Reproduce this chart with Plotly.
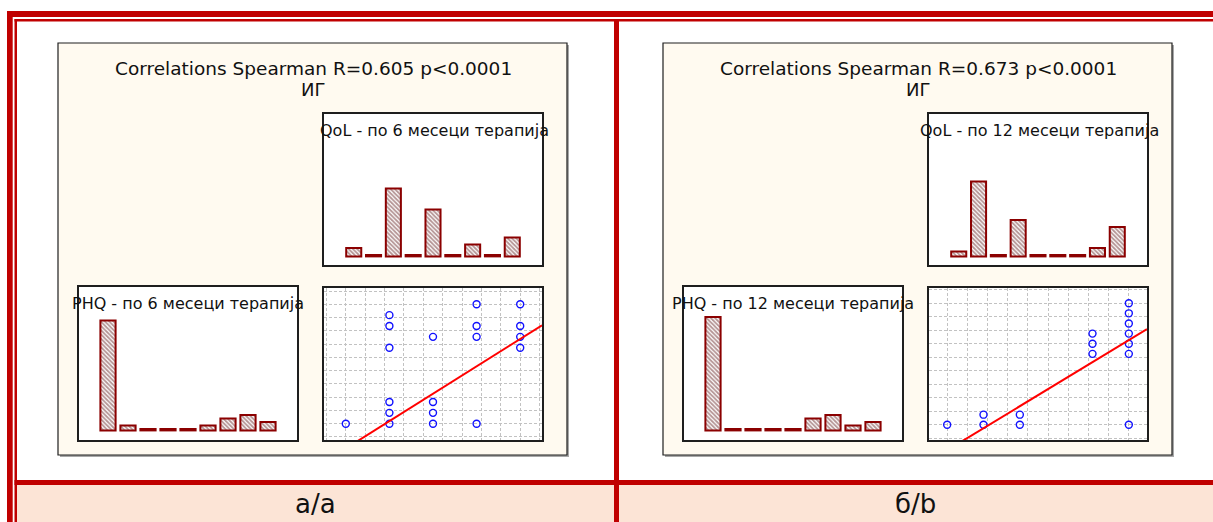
import plotly.graph_objects as go

W, H = 1213, 522

# ---------------- data ----------------
bins = [1, 2, 3, 4, 5, 6, 7, 8, 9]
qol6_counts = [2, 0, 19, 0, 13, 0, 3, 0, 5]
phq6_counts = [31, 1, 0, 0, 0, 1, 3, 4, 2]
qol12_counts = [1, 21, 0, 10, 0, 0, 0, 2, 8]
phq12_counts = [32, 0, 0, 0, 0, 3, 4, 1, 2]

scatter6_qol = [1, 2, 2, 2, 2, 2, 2, 3, 3, 3, 3, 4, 4, 4, 4, 5, 5, 5, 5]
scatter6_phq = [0, 10, 9, 7, 2, 1, 0, 8, 2, 1, 0, 11, 9, 8, 0, 11, 9, 8, 7]
scatter12_qol = [1, 2, 2, 3, 3, 5, 5, 5, 6, 6, 6, 6, 6, 6, 6]
scatter12_phq = [0, 1, 0, 1, 0, 9, 8, 7, 12, 11, 10, 9, 8, 7, 0]

fit6 = [2.52, -4.80]      # slope, intercept of the drawn regression line
fit12 = [2.173, -4.685]

titles = ["Correlations Spearman R=0.605 p<0.0001",
          "Correlations Spearman R=0.673 p<0.0001"]
group_label = "ИГ"
qol_titles = ["QoL - по 6 месеци терапија", "QoL - по 12 месеци терапија"]
phq_titles = ["PHQ - по 6 месеци терапија", "PHQ - по 12 месеци терапија"]
panel_labels = ["а/а", "б/b"]

# ---------------- styling ----------------
RED = "#C00000"
PINK = "#FCE4D6"
CREAM = "#FFFAF0"
BAR_EDGE = "#8B0000"
FONT = "DejaVu Sans"
ZERO_PAD = 0.4


def fx(px):
    return px / W


def fy(py):
    return 1 - py / H


def rect(x0, y0, x1, y1, fill=None, line_color=None, line_width=0, layer="below"):
    return dict(type="rect", xref="paper", yref="paper",
                x0=fx(x0), x1=fx(x1), y0=fy(y1), y1=fy(y0),
                fillcolor=fill if fill else "rgba(0,0,0,0)",
                line=dict(color=line_color if line_color else "rgba(0,0,0,0)", width=line_width),
                layer=layer)


fig = go.Figure()
shapes = []
annotations = []

panel_left = [58, 663]
hist_counts = [(qol6_counts, phq6_counts), (qol12_counts, phq12_counts)]
scatters = [(scatter6_qol, scatter6_phq, fit6), (scatter12_qol, scatter12_phq, fit12)]
scatter_xrange = [[0.5, 5.5], [0.5, 6.5]]
scatter_yrange = [[-1.5, 12.5], [-1.5, 13.5]]
grid_dx = [4 / 9, 5 / 9]
grid_dy = [11 / 9, 12 / 9]

bar_marker = dict(color="white", line=dict(color=BAR_EDGE, width=2),
                  pattern=dict(shape="\\", fgcolor="#6A2A2A", bgcolor="white",
                               size=3, solidity=0.6, fillmode="overlay"))

# background frame
shapes.append(rect(17, 485, W + 2, H + 2, fill=PINK))
for i, px0 in enumerate(panel_left):
    # cream panel with shadow
    shapes.append(rect(px0 + 2, 45, px0 + 511, 457, fill="#A8A8A8"))
    shapes.append(rect(px0, 43, px0 + 509, 455, fill=CREAM, line_color="#1E1E1E", line_width=1.2))
    # white sub boxes
    shapes.append(rect(px0 + 265, 113, px0 + 485, 266, fill="white"))
    shapes.append(rect(px0 + 265, 287, px0 + 485, 441, fill="white"))
    shapes.append(rect(px0 + 20, 286, px0 + 240, 441, fill="white"))

# red frame lines
shapes.append(rect(7, 11, W + 2, 17, fill=RED))
shapes.append(rect(14.5, 19, W + 2, 21.5, fill=RED))
shapes.append(rect(7, 11, 12.7, H + 2, fill=RED))
shapes.append(rect(14.5, 19, 17, H + 2, fill=RED))
shapes.append(rect(614, 19, 619, H + 2, fill=RED))
shapes.append(rect(14.5, 480, W + 2, 485, fill=RED))

axis_common = dict(showticklabels=False, ticks="", zeroline=False,
                   showline=True, mirror=True, linecolor="#1E1E1E", linewidth=2)
grid_style = dict(showgrid=True, gridcolor="#C2C2C2", griddash="3px,2px", gridwidth=1)

layout_axes = {}
n = 0
for i, px0 in enumerate(panel_left):
    qol_c, phq_c = hist_counts[i]
    sx, sy, fit = scatters[i]

    # --- QoL histogram (top right cell) ---
    n += 1
    layout_axes[f"xaxis{n}"] = dict(domain=[fx(px0 + 266), fx(px0 + 484)], range=[-0.5, 10.5],
                                    anchor=f"y{n}", showgrid=False, **axis_common)
    layout_axes[f"yaxis{n}"] = dict(domain=[fy(265), fy(114)], range=[-2.86, 40.3],
                                    anchor=f"x{n}", showgrid=False, **axis_common)
    fig.add_trace(go.Bar(x=bins, y=[c + ZERO_PAD for c in qol_c], base=-ZERO_PAD,
                         width=0.76, xaxis=f"x{n}", yaxis=f"y{n}", marker=bar_marker,
                         showlegend=False, hoverinfo="skip"))
    annotations.append(dict(text=qol_titles[i], x=fx(px0 + 376), y=fy(130), xref="paper", yref="paper",
                            showarrow=False, xanchor="center", yanchor="middle",
                            font=dict(family=FONT, size=16, color="#111111")))

    # --- scatter (bottom right cell) ---
    n += 1
    layout_axes[f"xaxis{n}"] = dict(domain=[fx(px0 + 266), fx(px0 + 484)], range=scatter_xrange[i],
                                    anchor=f"y{n}", tick0=1, dtick=grid_dx[i],
                                    **grid_style, **axis_common)
    layout_axes[f"yaxis{n}"] = dict(domain=[fy(440), fy(288)], range=scatter_yrange[i],
                                    anchor=f"x{n}", tick0=0, dtick=grid_dy[i],
                                    **grid_style, **axis_common)
    fig.add_trace(go.Scatter(x=sx, y=sy, mode="markers", xaxis=f"x{n}", yaxis=f"y{n}",
                             marker=dict(symbol="circle-open", size=7, color="#1010FF",
                                         line=dict(width=1.4)),
                             showlegend=False, hoverinfo="skip"))
    lx = scatter_xrange[i]
    fig.add_trace(go.Scatter(x=lx, y=[fit[0] * v + fit[1] for v in lx], mode="lines",
                             xaxis=f"x{n}", yaxis=f"y{n}",
                             line=dict(color="#FF0000", width=2),
                             showlegend=False, hoverinfo="skip"))

    # --- PHQ histogram (bottom left cell) ---
    n += 1
    layout_axes[f"xaxis{n}"] = dict(domain=[fx(px0 + 21), fx(px0 + 239)], range=[-0.45, 10.45],
                                    anchor=f"y{n}", showgrid=False, **axis_common)
    layout_axes[f"yaxis{n}"] = dict(domain=[fy(440), fy(287)], range=[-3.14, 40.57],
                                    anchor=f"x{n}", showgrid=False, **axis_common)
    fig.add_trace(go.Bar(x=bins, y=[c + ZERO_PAD for c in phq_c], base=-ZERO_PAD,
                         width=0.76, xaxis=f"x{n}", yaxis=f"y{n}", marker=bar_marker,
                         showlegend=False, hoverinfo="skip"))
    annotations.append(dict(text=phq_titles[i], x=fx(px0 + 130), y=fy(303), xref="paper", yref="paper",
                            showarrow=False, xanchor="center", yanchor="middle",
                            font=dict(family=FONT, size=16, color="#111111")))

    # titles
    annotations.append(dict(text=titles[i], x=fx(px0 + 255), y=fy(68), xref="paper", yref="paper",
                            showarrow=False, xanchor="center", yanchor="middle",
                            font=dict(family=FONT, size=18.5, color="#111111")))
    annotations.append(dict(text=group_label, x=fx(px0 + 255), y=fy(89), xref="paper", yref="paper",
                            showarrow=False, xanchor="center", yanchor="middle",
                            font=dict(family=FONT, size=18, color="#111111")))

# panel labels
for lbl, cx in zip(panel_labels, [315.5, 916]):
    annotations.append(dict(text=lbl, x=fx(cx), y=fy(504), xref="paper", yref="paper",
                            showarrow=False, xanchor="center", yanchor="middle",
                            font=dict(family=FONT, size=26, color="#111111")))

fig.update_layout(width=W, height=H, autosize=False,
                  margin=dict(l=0, r=0, t=0, b=0, pad=0),
                  paper_bgcolor="white", plot_bgcolor="white",
                  bargap=0.1, shapes=shapes, annotations=annotations,
                  **layout_axes)

fig.write_html("out.html", config={"displayModeBar": False},
               post_script="document.body.style.margin='0';document.body.style.overflow='hidden';")
